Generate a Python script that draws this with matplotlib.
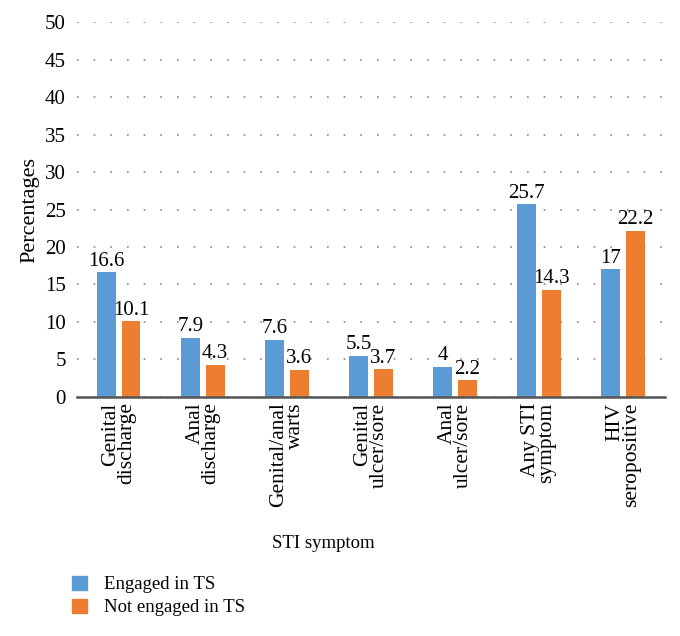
import numpy as np
import matplotlib.pyplot as plt
from matplotlib.patches import Patch

categorias = ["Genital\ndischarge", "Anal\ndischarge", "Genital/anal\nwarts",
              "Genital\nulcer/sore", "Anal\nulcer/sore", "Any STI\nsymptom",
              "HIV\nseropositive"]
engajados = [16.6, 7.9, 7.6, 5.5, 4.0, 25.7, 17.0]
nao_engajados = [10.1, 4.3, 3.6, 3.7, 2.2, 14.3, 22.2]
rotulos_eng = ["16.6", "7.9", "7.6", "5.5", "4", "25.7", "17"]
rotulos_nao = ["10.1", "4.3", "3.6", "3.7", "2.2", "14.3", "22.2"]

azul = "#5B9BD5"
laranja = "#ED7D31"

plt.rcParams["font.family"] = ["Liberation Serif", "DejaVu Serif"]

fig = plt.figure(figsize=(6.8, 6.36), dpi=100)
ax = fig.add_axes([0.113, 0.376, 0.865, 0.589])

x = np.arange(len(categorias))
largura = 0.225
desloc = 0.145

b1 = ax.bar(x - desloc, engajados, largura, color=azul, zorder=3)
b2 = ax.bar(x + desloc, nao_engajados, largura, color=laranja, zorder=3)

for barra, txt in zip(b1, rotulos_eng):
    ax.text(barra.get_x() + barra.get_width() / 2, barra.get_height() + 0.2, txt,
            ha="center", va="bottom", fontsize=15)
for barra, txt in zip(b2, rotulos_nao):
    ax.text(barra.get_x() + barra.get_width() / 2, barra.get_height() + 0.2, txt,
            ha="center", va="bottom", fontsize=15)

ax.set_xlim(-0.5, len(categorias) - 0.5)
ax.set_ylim(0, 50)
ax.set_yticks(range(0, 51, 5))
ax.tick_params(axis="y", length=0, labelsize=15, pad=8)
ax.tick_params(axis="x", length=0, labelsize=15.5, pad=4)
ax.set_xticks(x)
ax.set_xticklabels(categorias, rotation=90, ha="center", va="top",
                   multialignment="right", linespacing=0.8)

ax.yaxis.grid(True, linestyle=(0, (1, 9)), color="#888888", linewidth=1.2, zorder=0)
for lado in ["top", "right", "left"]:
    ax.spines[lado].set_visible(False)
ax.spines["bottom"].set_color("#555555")
ax.spines["bottom"].set_linewidth(1.8)
ax.spines["bottom"].set_zorder(4)

ax.set_ylabel("Percentages", fontsize=16, labelpad=4)
fig.text(323 / 680, 1 - 543 / 636, "STI symptom", ha="center", va="center", fontsize=13.5)

alcas = [Patch(color=azul, label="Engaged in TS"),
         Patch(color=laranja, label="Not engaged in TS")]
fig.legend(handles=alcas, loc="upper left", bbox_to_anchor=(0.095, 1 - 568 / 636),
           frameon=False, fontsize=13.5, handlelength=0.8, handleheight=0.8,
           handletextpad=0.9, labelspacing=0.3, borderaxespad=0)

fig.savefig("out.png", dpi=100)
